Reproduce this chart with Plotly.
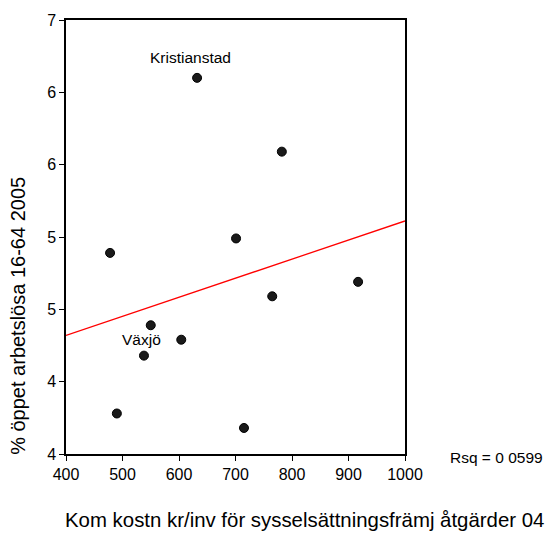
import numpy as np
import plotly.graph_objects as go

# Data
kostn = [632, 782, 701, 478, 550, 538, 604, 490, 765, 917, 715]
arbetslosa = [6.60, 6.09, 5.49, 5.39, 4.89, 4.68, 4.79, 4.28, 5.09, 5.19, 4.18]
label_names = ["Kristianstad", "Växjö"]
label_x = [621, 533]
label_y = [6.74, 4.79]
ytick_vals = [4, 4.5, 5, 5.5, 6, 6.5, 7]
ytick_text = ["4", "4", "5", "5", "6", "6", "7"]
xtick_vals = [400, 500, 600, 700, 800, 900, 1000]
rsq_text = "Rsq = 0 0599"

# Linear fit
slope, intercept = np.polyfit(kostn, arbetslosa, 1)
fit_x = [400, 1000]
fit_y = [intercept + slope * v for v in fit_x]

FONT = "Liberation Sans, Arial, sans-serif"

fig = go.Figure()
fig.add_trace(go.Scatter(x=fit_x, y=fit_y, mode="lines",
                         line=dict(color="#ff0000", width=1.3),
                         hoverinfo="skip", showlegend=False))
fig.add_trace(go.Scatter(x=kostn, y=arbetslosa, mode="markers",
                         marker=dict(symbol="circle", size=9, color="#1a1a1a",
                                     line=dict(color="#000000", width=1)),
                         showlegend=False))

for name, lx, ly in zip(label_names, label_x, label_y):
    fig.add_annotation(x=lx, y=ly, text=name, showarrow=False,
                       font=dict(family=FONT, size=15.5, color="black"),
                       xanchor="center", yanchor="middle")

fig.add_annotation(xref="paper", yref="paper", x=1.128, y=-0.007,
                   text=rsq_text, showarrow=False, xanchor="left", yanchor="middle",
                   font=dict(family=FONT, size=15.5, color="black"))
fig.add_annotation(xref="paper", yref="paper", x=0.705, y=-0.153,
                   text="Kom kostn kr/inv för sysselsättningsfrämj åtgärder 04",
                   showarrow=False, xanchor="center", yanchor="middle",
                   font=dict(family=FONT, size=20.4, color="black"))
fig.add_annotation(xref="paper", yref="paper", x=-0.142, y=0.318,
                   text="% öppet arbetslösa 16-64 2005", textangle=-90,
                   showarrow=False, xanchor="center", yanchor="middle",
                   font=dict(family=FONT, size=20, color="black"))

fig.update_xaxes(range=[400, 1000], tickvals=xtick_vals, ticks="outside", ticklen=5,
                 tickcolor="black", showline=True, linecolor="black", linewidth=1.5,
                 mirror=True, showgrid=False, zeroline=False,
                 tickfont=dict(family=FONT, size=16, color="black"))
fig.update_yaxes(range=[4, 7], tickvals=ytick_vals, ticktext=ytick_text,
                 ticks="outside", ticklen=5, tickcolor="black", showline=True,
                 linecolor="black", linewidth=1.5, mirror=True, showgrid=False,
                 zeroline=False, tickfont=dict(family=FONT, size=16, color="black"))

fig.update_layout(width=547, height=536, margin=dict(l=66, r=142, t=17, b=82),
                  plot_bgcolor="white", paper_bgcolor="white",
                  font=dict(family=FONT, color="black"))

fig.write_html("out.html", config={"displayModeBar": False},
               post_script="document.body.style.margin='0';document.body.style.overflow='hidden';")
